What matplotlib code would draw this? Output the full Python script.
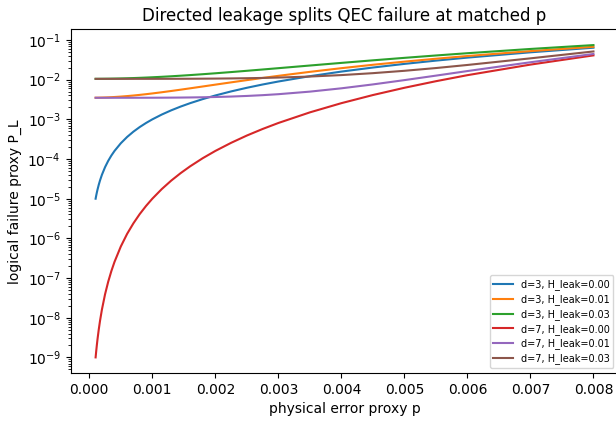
import matplotlib
matplotlib.use("Agg")
import matplotlib.pyplot as plt

# physical error proxy p (x) and logical failure proxy P_L for each curve
p = [0.0001, 0.00011, 0.00012, 0.00013, 0.00015, 0.00017, 0.0002, 0.00025, 0.0003,
     0.00035, 0.0004, 0.0005, 0.0006, 0.0007, 0.0008, 0.0009, 0.001, 0.00115,
     0.0013, 0.00145, 0.0016, 0.0018, 0.002, 0.00225, 0.0025, 0.00275, 0.003,
     0.0035, 0.004, 0.0045, 0.005, 0.0055, 0.006, 0.007, 0.008]

d3_h000 = [1.0e-5, 1.21e-5, 1.44e-5, 1.69e-5, 2.25e-5, 2.89e-5, 4.0e-5, 6.25e-5, 9.0e-5,
           1.225e-4, 1.6e-4, 2.5e-4, 3.6e-4, 4.9e-4, 6.4e-4, 8.1e-4, 1.0e-3, 1.3225e-3,
           1.69e-3, 2.1025e-3, 2.56e-3, 3.24e-3, 4.0e-3, 5.0625e-3, 6.25e-3, 7.5625e-3, 9.0e-3,
           1.225e-2, 1.6e-2, 2.025e-2, 2.5e-2, 3.025e-2, 3.6e-2, 4.9e-2, 6.4e-2]
d3_h001 = [0.00351, 0.003512, 0.003514, 0.003517, 0.003523, 0.003529, 0.00354, 0.003563, 0.00359,
           0.0036225, 0.00366, 0.00375, 0.00386, 0.00399, 0.00414, 0.00431, 0.0045, 0.0048225,
           0.00519, 0.0056025, 0.00606, 0.00674, 0.0075, 0.0085625, 0.00975, 0.0110625, 0.0125,
           0.01575, 0.0195, 0.02375, 0.0285, 0.03375, 0.0395, 0.0525, 0.0675]
d3_h003 = [0.01051, 0.010512, 0.010514, 0.010517, 0.010523, 0.010529, 0.01054, 0.010563, 0.01059,
           0.0106225, 0.01066, 0.01075, 0.01086, 0.01099, 0.01114, 0.01131, 0.0115, 0.0118225,
           0.01219, 0.0126025, 0.01306, 0.01374, 0.0145, 0.0155625, 0.01675, 0.0180625, 0.0195,
           0.02275, 0.0265, 0.03075, 0.0355, 0.04075, 0.0465, 0.0595, 0.0745]
d7_h000 = [1.0e-9, 1.464e-9, 2.07e-9, 2.856e-9, 5.06e-9, 8.35e-9, 1.6e-8, 3.91e-8, 8.1e-8,
           1.50e-7, 2.56e-7, 6.25e-7, 1.30e-6, 2.40e-6, 4.10e-6, 6.56e-6, 1.0e-5, 1.75e-5,
           2.86e-5, 4.42e-5, 6.55e-5, 1.05e-4, 1.6e-4, 2.56e-4, 3.91e-4, 5.72e-4, 8.1e-4,
           1.50e-3, 2.56e-3, 4.10e-3, 6.25e-3, 9.15e-3, 1.30e-2, 2.40e-2, 4.10e-2]
d7_h001 = [0.0035, 0.0035, 0.0035, 0.0035, 0.0035, 0.0035, 0.0035, 0.0035, 0.0035001,
           0.0035002, 0.0035003, 0.0035006, 0.0035013, 0.0035024, 0.0035041, 0.0035066, 0.00351, 0.0035175,
           0.003529, 0.0035442, 0.003566, 0.003605, 0.00366, 0.003756, 0.003891, 0.004072, 0.00431,
           0.0050, 0.00606, 0.0076, 0.00975, 0.01265, 0.0165, 0.0275, 0.0445]
d7_h003 = [0.0105, 0.0105, 0.0105, 0.0105, 0.0105, 0.0105, 0.0105, 0.0105, 0.0105,
           0.0105, 0.0105, 0.0105, 0.0105, 0.0105024, 0.010504, 0.0105066, 0.01051, 0.0105175,
           0.010529, 0.0105442, 0.010566, 0.010605, 0.01066, 0.010756, 0.010891, 0.011072, 0.01131,
           0.0120, 0.01306, 0.0146, 0.01675, 0.01965, 0.0235, 0.0345, 0.0515]

series = [
    ("d=3, H_leak=0.00", d3_h000),
    ("d=3, H_leak=0.01", d3_h001),
    ("d=3, H_leak=0.03", d3_h003),
    ("d=7, H_leak=0.00", d7_h000),
    ("d=7, H_leak=0.01", d7_h001),
    ("d=7, H_leak=0.03", d7_h003),
]

fig = plt.figure(figsize=(6.16, 4.21), dpi=100)
# the reference's right spine sits just past the image edge
ax = fig.add_axes([0.1148, 0.114, 0.889, 0.816])

for label, vals in series:
    ax.plot(p, vals, label=label, linewidth=1.5)

ax.set_yscale("log")
ax.set_xlabel("physical error proxy p")
ax.set_ylabel("logical failure proxy P_L")
ax.set_title("Directed leakage splits QEC failure at matched p")
ax.legend(fontsize=7, loc="lower right", labelspacing=0.4)

plt.savefig("out.png", dpi=100)
